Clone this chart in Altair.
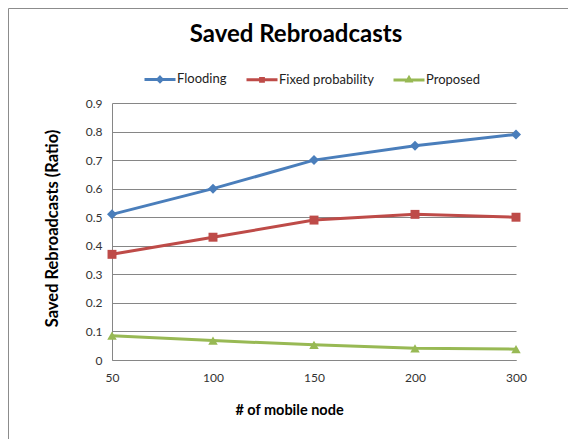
import altair as alt
import pandas as pd

nodes = ["50", "100", "150", "200", "300"]
series_names = ["Flooding", "Fixed probability", "Proposed"]
flooding = [0.51, 0.60, 0.70, 0.75, 0.79]
fixed_prob = [0.37, 0.43, 0.49, 0.51, 0.50]
proposed = [0.085, 0.068, 0.053, 0.041, 0.038]
y_ticks = [0, 0.1, 0.2, 0.3, 0.4, 0.5, 0.6, 0.7, 0.8, 0.9]
colors = ["#4A7EBB", "#BE4B48", "#98B954"]
marker_shapes = ["diamond", "square", "triangle-up"]
marker_sizes = [100, 80, 90]
chart_title = "Saved Rebroadcasts"

rows = []
for name, vals in zip(series_names, [flooding, fixed_prob, proposed]):
    for n, v in zip(nodes, vals):
        rows.append({"nodes": n, "series": name, "value": v})
df = pd.DataFrame(rows)

FONT = "Lato"
W, H = 404, 257

legend_paths = [
    "M-1,0H1M0,-0.14L0.14,0L0,0.14L-0.14,0Z",
    "M-1,0H1M-0.09,-0.09H0.09V0.09H-0.09Z",
    "M-1,0H1M0,-0.13L0.12,0.08L-0.12,0.08Z",
]

x_enc = alt.X(
    "nodes:O",
    sort=nodes,
    scale=alt.Scale(type="point", padding=0),
    axis=alt.Axis(
        title="# of mobile node",
        labelAngle=0,
        ticks=False,
        labelPadding=12,
        domainColor="#868686",
        grid=False,
        titleX=177,
        titleY=50,
        titleBaseline="middle",
        titleFontSize=14.5,
        titleFontWeight="bold",
    ),
)
y_enc = alt.Y(
    "value:Q",
    scale=alt.Scale(domain=[0, 0.9], nice=False),
    axis=alt.Axis(
        title="Saved Rebroadcasts (Ratio)",
        values=y_ticks,
        labelExpr="datum.value == 0 ? '0' : format(datum.value, '.1f')",
        ticks=False,
        labelPadding=10,
        domainColor="#868686",
        gridColor="#868686",
        titleX=-60,
        titleY=125,
        titleAngle=-90,
        titleAlign="center",
        titleBaseline="middle",
        titleFontSize=16.5,
        titleFontWeight="bold",
    ),
)

line_layers = []
point_layers = []
for name, col, shp, sz in zip(series_names, colors, marker_shapes, marker_sizes):
    base = alt.Chart(df).transform_filter(alt.datum.series == name)
    line_layers.append(
        base.mark_line(strokeWidth=3, color=col).encode(x=x_enc, y=y_enc)
    )
    point_layers.append(
        base.mark_point(filled=True, size=sz, opacity=1, shape=shp, color=col).encode(x=x_enc, y=y_enc)
    )

legend_kw = dict(
    title=None,
    orient="none",
    direction="horizontal",
    legendX=31,
    legendY=-41,
    labelFontSize=13,
    labelOffset=0,
    columnPadding=13,
    symbolSize=961,
    symbolStrokeWidth=3,
    symbolOpacity=1,
)

legend_layer = alt.Chart(df).mark_point(opacity=0, strokeWidth=3, filled=False).encode(
    x=x_enc,
    y=y_enc,
    color=alt.Color("series:N", scale=alt.Scale(domain=series_names, range=colors),
                    legend=alt.Legend(**legend_kw)),
    shape=alt.Shape("series:N", scale=alt.Scale(domain=series_names, range=legend_paths),
                    legend=alt.Legend(**legend_kw)),
)

title_layer = alt.Chart(alt.Data(values=[{"t": chart_title}])).mark_text(
    font=FONT, fontSize=24, fontWeight="bold", color="#000000",
    align="center", baseline="alphabetic",
).encode(text="t:N", x=alt.value(W / 2 - 18), y=alt.value(-61))

border = alt.Chart(alt.Data(values=[{}])).mark_rule(color="#8c8c8c", strokeWidth=1).encode(
    x=alt.value(-103.5), y=alt.value(-94.5), y2=alt.value(H + 80)
)
border_top = alt.Chart(alt.Data(values=[{}])).mark_rule(color="#8c8c8c", strokeWidth=1).encode(
    x=alt.value(-103.5), x2=alt.value(W + 60), y=alt.value(-94.5)
)

chart = (
    alt.layer(*line_layers, *point_layers, legend_layer, title_layer, border, border_top)
    .properties(
        width=W,
        height=H,
        autosize=alt.AutoSizeParams(type="none"),
        padding={"left": 104, "top": 95, "right": 52, "bottom": 79},
    )
    .configure(font=FONT)
    .configure_axis(
        labelFont=FONT,
        labelFontSize=12,
        labelColor="#333333",
        titleFont=FONT,
        titleColor="#000000",
    )
    .configure_legend(labelFont=FONT, labelColor="#222222")
    .configure_view(stroke=None)
)

chart.save("out.html", embed_options={"renderer": "svg", "actions": False})
